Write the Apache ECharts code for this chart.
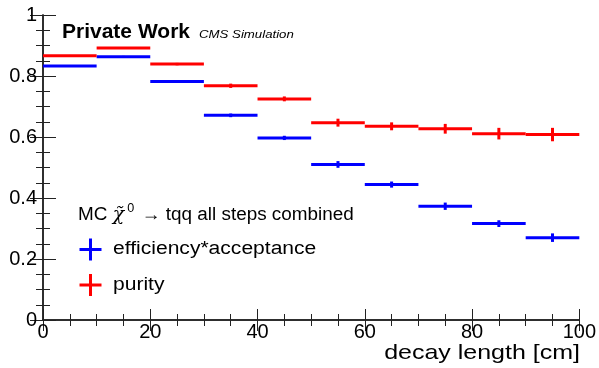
<!DOCTYPE html>
<html><head><meta charset="utf-8">
<script src="https://cdn.jsdelivr.net/npm/echarts@6/dist/echarts.min.js"></script>
<style>html,body{margin:0;padding:0;background:#fff}#c{width:599px;height:368px}</style>
</head><body><div id="c"></div>
<script>
var binEdgesLow = [0,10,20,30,40,50,60,70,80,90];
var binEdgesHigh = [10,20,30,40,50,60,70,80,90,100];
var effValues = [0.833,0.863,0.782,0.671,0.597,0.510,0.444,0.373,0.316,0.270];
var effErrors = [0.003,0.003,0.004,0.006,0.007,0.011,0.010,0.012,0.011,0.014];
var purValues = [0.866,0.892,0.839,0.768,0.725,0.647,0.635,0.627,0.611,0.608];
var purErrors = [0.003,0.003,0.004,0.007,0.008,0.013,0.013,0.016,0.019,0.022];
var xTicks = [0,20,40,60,80,100];
var yTicks = [0,0.2,0.4,0.6,0.8,1];
var seriesNames = ['efficiency*acceptance','purity'];
var seriesColors = ['#0000ff','#ff0000'];

function toData(vals, errs){
  return vals.map(function(v,i){ return [binEdgesLow[i], binEdgesHigh[i], v, errs[i]]; });
}
function renderErr(color){
  return function(params, api){
    var lo = api.value(0), hi = api.value(1), y = api.value(2), e = api.value(3);
    var p1 = api.coord([lo, y]), p2 = api.coord([hi, y]);
    var c = api.coord([(lo+hi)/2, y]);
    var t = api.coord([(lo+hi)/2, y+e]), b = api.coord([(lo+hi)/2, y-e]);
    return {type:'group', children:[
      {type:'line', shape:{x1:p1[0],y1:p1[1],x2:p2[0],y2:p2[1]}, style:{stroke:color,lineWidth:3}},
      {type:'line', shape:{x1:c[0],y1:t[1],x2:c[0],y2:b[1]}, style:{stroke:color,lineWidth:3}}
    ]};
  };
}
var font = 'Liberation Sans, Arial, Helvetica, sans-serif';
var chart = echarts.init(document.getElementById('c'), null, {renderer:'canvas'});
function axisCommon(tickLen, minorLen){
  return {
    type:'value', min:0, axisLine:{show:true,lineStyle:{color:'#222',width:1.5}},
    splitLine:{show:false},
    axisTick:{show:true,inside:true,length:tickLen,lineStyle:{color:'#222',width:1}},
    minorTick:{show:true,splitNumber:4,length:minorLen,lineStyle:{color:'#222',width:1}}
  };
}
function crossLegend(cx, cy, color){
  return [
    {type:'rect', shape:{x:cx-11,y:cy-1.5,width:22,height:3}, style:{fill:color}},
    {type:'rect', shape:{x:cx-1.5,y:cy-11,width:3,height:22}, style:{fill:color}}
  ];
}
var g = [];
g.push({type:'text', x:62, y:32.5, scaleX:1.05, style:{text:'Private Work', font:'bold 20px '+font, fill:'#000', textVerticalAlign:'middle', verticalAlign:'middle'}});
g.push({type:'text', x:199, y:35, scaleX:1.15, style:{text:'CMS Simulation', font:'italic 11.5px '+font, fill:'#000', textVerticalAlign:'middle', verticalAlign:'middle'}});
g.push({type:'text', x:78, y:215, scaleX:1.05, style:{
  rich:{
    n:{fontSize:18,fontFamily:font,fill:'#000'},
    c:{fontSize:18,fontFamily:'DejaVu Serif, DejaVu Sans, serif',fontStyle:'italic',fill:'#000'},
    s:{fontSize:12,fontFamily:font,fill:'#000',padding:[0,2,12,3]}
  },
  text:'{n|MC }{c|χ̃}{s|0}{n| → tqq all steps combined}', textVerticalAlign:'middle', verticalAlign:'middle'}});
[249.5, 285].forEach(function(cy, i){
  crossLegend(90.5, cy, seriesColors[i]).forEach(function(e){ g.push(e); });
  g.push({type:'text', x:113, y:cy, scaleX:1.17, style:{text:seriesNames[i], font:'18px '+font, fill:'#000', textVerticalAlign:'middle', verticalAlign:'middle'}});
});
g.push({type:'text', x:580, y:353, scaleX:1.19, style:{text:'decay length [cm]', font:'21px '+font, fill:'#000', textAlign:'right', align:'right', textVerticalAlign:'middle', verticalAlign:'middle'}});

chart.setOption({
  animation:false,
  grid:{left:43,right:19,top:15,bottom:48},
  xAxis:[
    Object.assign(axisCommon(11,6), {max:100, interval:20, position:'bottom',
      axisLabel:{color:'#000',fontSize:20,fontFamily:font,margin:2,showMaxLabel:true,
        formatter:function(v){return xTicks.indexOf(v)>=0?String(v):'';}}}),
    Object.assign(axisCommon(11,6), {max:100, interval:20, position:'top', axisLabel:{show:false}})
  ],
  yAxis:[
    Object.assign(axisCommon(13,7), {max:1, interval:0.2, position:'left',
      axisLabel:{color:'#000',fontSize:20,fontFamily:font,margin:6,
        formatter:function(v){var r=+(+v).toFixed(1);return yTicks.indexOf(r)>=0?String(r):'';}}}),
    Object.assign(axisCommon(13,7), {max:1, interval:0.2, position:'right', axisLabel:{show:false}})
  ],
  series:[
    {name:seriesNames[0], type:'custom', renderItem:renderErr(seriesColors[0]),
     itemStyle:{color:seriesColors[0]}, encode:{x:[0,1],y:2}, data:toData(effValues,effErrors), z:3},
    {name:seriesNames[1], type:'custom', renderItem:renderErr(seriesColors[1]),
     itemStyle:{color:seriesColors[1]}, encode:{x:[0,1],y:2}, data:toData(purValues,purErrors), z:3}
  ],
  graphic:g
});
</script></body></html>
